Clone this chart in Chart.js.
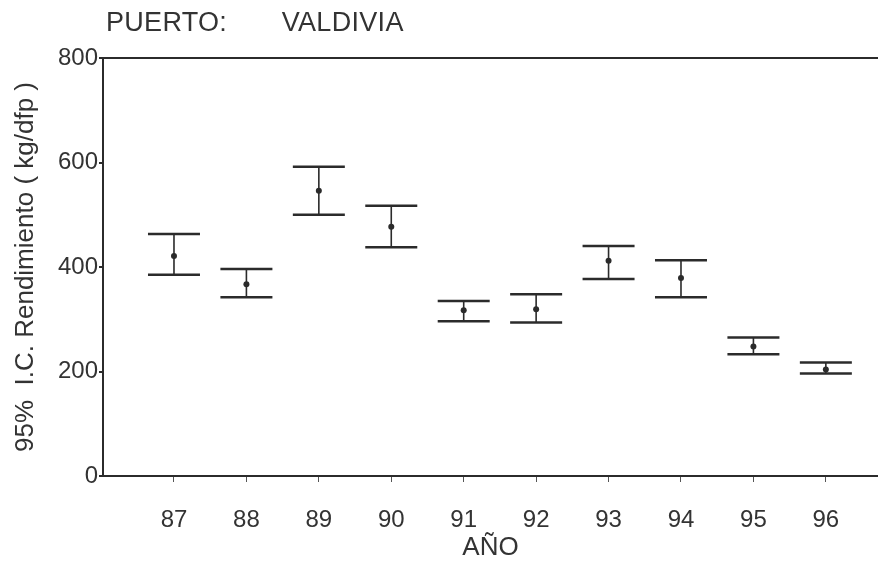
<!DOCTYPE html>
<html>
<head>
<meta charset="utf-8">
<script src="https://cdn.jsdelivr.net/npm/chart.js@4.4.1/dist/chart.umd.min.js"></script>
<style>
  html, body { margin: 0; padding: 0; background: #fff; }
  #wrap { position: relative; width: 878px; height: 566px; }
  #title {
    position: absolute; left: 106px; top: 7px;
    font-family: "Liberation Sans", Arial, sans-serif;
    font-size: 27px; letter-spacing: 0.3px; color: #333; white-space: pre;
  }
</style>
</head>
<body>
<div id="wrap">
  <div id="title">PUERTO:       VALDIVIA</div>
  <canvas id="chart" width="878" height="566"></canvas>
</div>
<script>
// Year codes on the x axis
const years = [87, 88, 89, 90, 91, 92, 93, 94, 95, 96];
// Mean yield (kg/dfp) and 95% confidence limits
const means = [421, 367, 546, 477, 317, 319, 412, 379, 248, 204];
const upper = [463, 396, 592, 517, 335, 348, 440, 413, 265, 217];
const lower = [385, 342, 500, 438, 296, 294, 377, 342, 233, 196];
const yTicks = [0, 200, 400, 600, 800];

const ink = '#2b2b2b';
const font = "'Liberation Sans', Arial, sans-serif";

// vertical stems: pairs of points separated by gaps
const stems = [];
years.forEach((yr, i) => {
  stems.push({ x: yr, y: lower[i] });
  stems.push({ x: yr, y: upper[i] });
  stems.push({ x: yr, y: null });
});

const ctx = document.getElementById('chart').getContext('2d');
new Chart(ctx, {
  type: 'scatter',
  data: {
    datasets: [
      {
        type: 'line',
        data: stems,
        borderColor: ink,
        borderWidth: 1.6,
        pointRadius: 0,
        spanGaps: false,
        tension: 0
      },
      {
        data: years.map((yr, i) => ({ x: yr, y: upper[i] })),
        pointStyle: 'line',
        pointRadius: 26,
        borderColor: ink,
        borderWidth: 2.5
      },
      {
        data: years.map((yr, i) => ({ x: yr, y: lower[i] })),
        pointStyle: 'line',
        pointRadius: 26,
        borderColor: ink,
        borderWidth: 2.5
      },
      {
        data: years.map((yr, i) => ({ x: yr, y: means[i] })),
        pointStyle: 'circle',
        pointRadius: 3,
        backgroundColor: ink,
        borderColor: ink,
        borderWidth: 0
      }
    ]
  },
  options: {
    responsive: false,
    animation: false,
    layout: { autoPadding: false, padding: { top: 58, right: 0, left: 0, bottom: 0 } },
    plugins: {
      legend: { display: false },
      tooltip: { enabled: false }
    },
    scales: {
      x: {
        type: 'linear',
        min: 86.02,
        max: 96.72,
        afterFit: s => { s.height = 90; },
        afterBuildTicks: s => { s.ticks = years.map(v => ({ value: v })); },
        ticks: {
          color: '#333',
          font: { family: font, size: 24 },
          padding: 24,
          maxRotation: 0,
          callback: v => String(v)
        },
        grid: { display: true, drawOnChartArea: false, tickLength: 6, color: '#555', lineWidth: 1 },
        border: { display: true, color: ink, width: 2 },
        title: {
          display: true,
          text: 'AÑO',
          color: '#333',
          font: { family: font, size: 26 },
          padding: { top: 0, bottom: 3 }
        }
      },
      xTop: {
        type: 'linear',
        position: 'top',
        min: 86,
        max: 96.72,
        afterFit: s => { s.height = 0; },
        ticks: { display: false },
        grid: { display: false },
        border: { display: true, color: ink, width: 2 }
      },
      y: {
        min: 0,
        max: 800,
        afterFit: s => { s.width = 103; },
        afterBuildTicks: s => { s.ticks = yTicks.map(v => ({ value: v })); },
        ticks: {
          color: '#333',
          font: { family: font, size: 24 },
          padding: 1
        },
        grid: { display: true, drawOnChartArea: false, tickLength: 4, color: ink, lineWidth: 2 },
        border: { display: true, color: ink, width: 2 },
        title: {
          display: true,
          text: '95%  I.C. Rendimiento ( kg/dfp )',
          color: '#333',
          font: { family: font, size: 26 },
          padding: { top: 10, bottom: 0 }
        }
      }
    }
  }
});
</script>
</body>
</html>
